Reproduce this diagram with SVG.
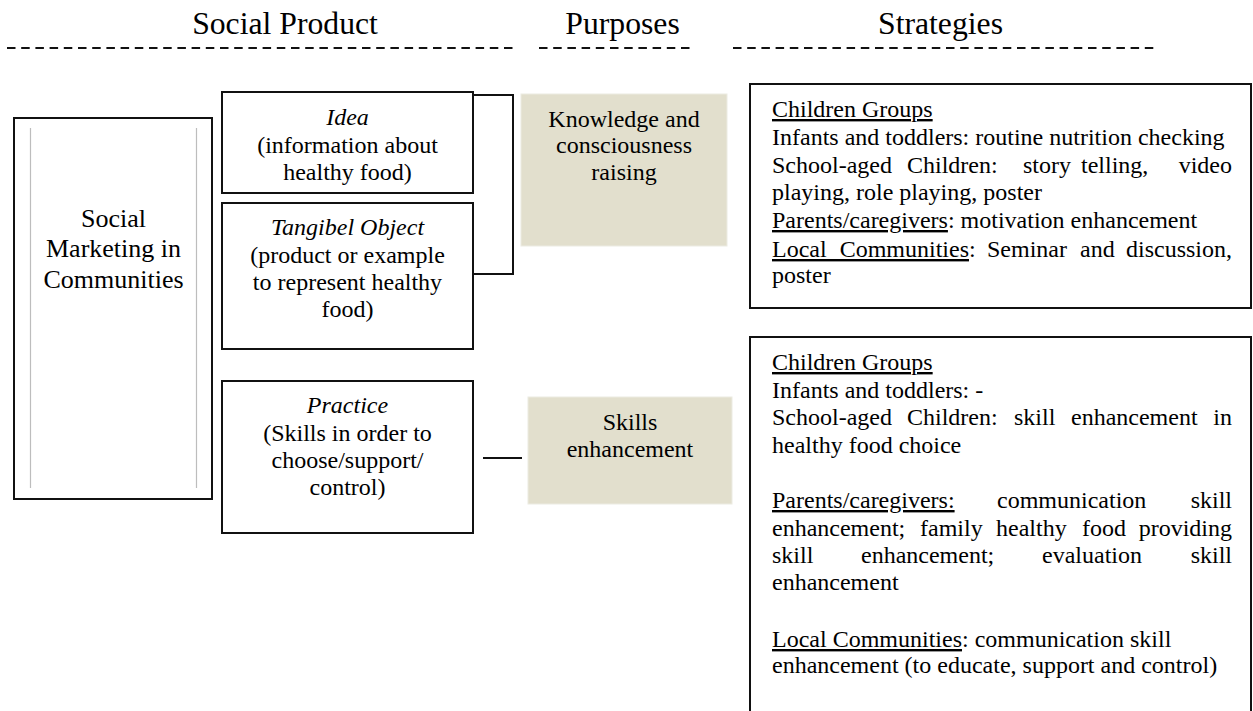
<svg xmlns="http://www.w3.org/2000/svg" width="1253" height="711" viewBox="0 0 1253 711">
<style>
text{font-family:"Liberation Serif","Times New Roman",serif;fill:#000}
.t{font-size:31.7px;text-anchor:middle}
.c{font-size:24px;text-anchor:middle}
.c26{font-size:26px;text-anchor:middle}
.s{font-size:24px}
.e{text-anchor:end}
.i{font-style:italic}
.u{text-decoration:underline}
.box{fill:#fff;stroke:#111;stroke-width:2}
.pbox{fill:#e2dfcd;stroke:#ecebe2;stroke-width:1}
.dash{stroke:#111;stroke-width:2;stroke-dasharray:8.5 5.7;fill:none}
.con{stroke:#111;stroke-width:2;fill:none}
.inner{stroke:#bdbdbd;stroke-width:1.2}
</style>
<g id="headers">
<text class="t" x="285" y="34">Social Product</text>
<text class="t" x="622.5" y="34">Purposes</text>
<text class="t" x="940.5" y="34">Strategies</text>
<line class="dash" x1="7" y1="48" x2="513" y2="48"/>
<line class="dash" x1="539" y1="48" x2="695" y2="48"/>
<line class="dash" x1="733" y1="48" x2="1157" y2="48"/>
</g>
<g id="connectors">
<path class="con" d="M473,95 H513 V274 H473"/>
<line class="con" x1="483" y1="458" x2="522" y2="458"/>
</g>
<g id="social-marketing">
<rect class="box" x="14" y="118" width="198" height="381"/>
<line class="inner" x1="30.5" y1="128" x2="30.5" y2="488"/>
<line class="inner" x1="196.5" y1="128" x2="196.5" y2="488"/>
<text class="c26" x="113.5" y="227">Social</text>
<text class="c26" x="113.5" y="257">Marketing in</text>
<text class="c26" x="113.5" y="288">Communities</text>
</g>
<g id="idea">
<rect class="box" x="222" y="92" width="251" height="101"/>
<text class="c i" x="347.5" y="125">Idea</text>
<text class="c" x="347.5" y="153">(information about</text>
<text class="c" x="347.5" y="180">healthy food)</text>
</g>
<g id="tangible">
<rect class="box" x="222" y="203" width="251" height="146"/>
<text class="c i" x="347.5" y="235">Tangibel Object</text>
<text class="c" x="347.5" y="263">(product or example</text>
<text class="c" x="347.5" y="290">to represent healthy</text>
<text class="c" x="347.5" y="317">food)</text>
</g>
<g id="practice">
<rect class="box" x="222" y="381" width="251" height="152"/>
<text class="c i" x="347.5" y="413">Practice</text>
<text class="c" x="347.5" y="441">(Skills in order to</text>
<text class="c" x="347.5" y="468">choose/support/</text>
<text class="c" x="347.5" y="495">control)</text>
</g>
<g id="knowledge">
<rect class="pbox" x="521" y="94" width="206" height="152"/>
<text class="c" x="624" y="127">Knowledge and</text>
<text class="c" x="624" y="153">consciousness</text>
<text class="c" x="624" y="180">raising</text>
</g>
<g id="skills">
<rect class="pbox" x="528" y="397" width="204" height="107"/>
<text class="c" x="630" y="430">Skills</text>
<text class="c" x="630" y="457">enhancement</text>
</g>
<g id="strategies-1">
<rect class="box" x="750" y="84" width="501" height="224"/>
<text class="s" y="117"><tspan x="772" class="u">Children Groups</tspan></text>
<text class="s" x="772" y="145">Infants and toddlers: routine nutrition checking</text>
<text class="s" y="173"><tspan x="772">School-aged</tspan><tspan x="907">Children:</tspan><tspan x="1023">story</tspan><tspan x="1081">telling,</tspan><tspan x="1232" class="e">video</tspan></text>
<text class="s" x="772" y="200">playing, role playing, poster</text>
<text class="s" x="772" y="228"><tspan class="u">Parents/caregivers</tspan>: motivation enhancement</text>
<text class="s" y="257"><tspan x="772" class="u" style="word-spacing:7px">Local Communities</tspan>:<tspan x="987">Seminar</tspan><tspan x="1080">and</tspan><tspan x="1232" class="e">discussion,</tspan></text>
<text class="s" x="772" y="283">poster</text>
</g>
<g id="strategies-2">
<rect class="box" x="750" y="337" width="501" height="390"/>
<text class="s" y="370"><tspan x="772" class="u">Children Groups</tspan></text>
<text class="s" x="772" y="398">Infants and toddlers: -</text>
<text class="s" y="425"><tspan x="772">School-aged</tspan><tspan x="907">Children:</tspan><tspan x="1014">skill</tspan><tspan x="1071">enhancement</tspan><tspan x="1232" class="e">in</tspan></text>
<text class="s" x="772" y="453">healthy food choice</text>
<text class="s" y="508"><tspan x="772" class="u">Parents/caregivers:</tspan><tspan x="997">communication</tspan><tspan x="1232" class="e">skill</tspan></text>
<text class="s" y="536"><tspan x="772">enhancement;</tspan><tspan x="920">family</tspan><tspan x="996">healthy</tspan><tspan x="1082">food</tspan><tspan x="1232" class="e">providing</tspan></text>
<text class="s" y="563"><tspan x="772">skill</tspan><tspan x="861">enhancement;</tspan><tspan x="1042">evaluation</tspan><tspan x="1232" class="e">skill</tspan></text>
<text class="s" x="772" y="590">enhancement</text>
<text class="s" x="772" y="647"><tspan class="u">Local Communities</tspan>: communication skill</text>
<text class="s" x="772" y="673">enhancement (to educate, support and control)</text>
</g>
</svg>
